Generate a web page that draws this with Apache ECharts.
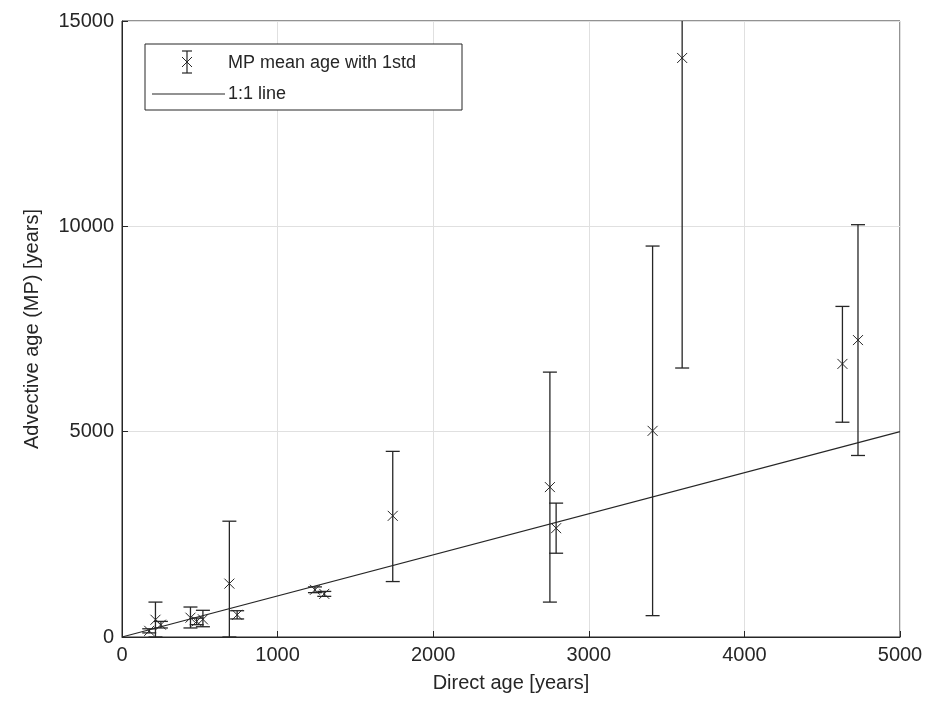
<!DOCTYPE html>
<html><head><meta charset="utf-8">
<script src="https://cdn.jsdelivr.net/npm/echarts@6/dist/echarts.min.js"></script>
<style>html,body{margin:0;background:#fff}#c{width:926px;height:709px}</style>
</head><body><div id="c"></div>
<script>
const directAge = [175, 215, 250, 440, 480, 520, 690, 740, 1240, 1300, 1740, 2750, 2790, 3410, 3600, 4630, 4730];
const meanAge   = [150, 420, 300, 470, 380, 430, 1300, 540, 1150, 1050, 2950, 3650, 2650, 5020, 14100, 6650, 7230];
const lowerAge  = [100, 0, 220, 220, 300, 250, 0, 440, 1080, 990, 1350, 850, 2040, 520, 6550, 5230, 4420];
const upperAge  = [200, 850, 380, 730, 460, 650, 2820, 640, 1220, 1110, 4520, 6450, 3260, 9520, 21650, 8050, 10040];
const oneToOne = [[0,0],[5000,5000]];

const data = directAge.map((x,i)=>[x, meanAge[i], lowerAge[i], upperAge[i]]);
const col = '#262626';
const chart = echarts.init(document.getElementById('c'));
const axisCommon = {
  axisLine:{lineStyle:{color:col}},axisTick:{inside:true,length:6,lineStyle:{color:col}},
  axisLabel:{fontFamily:'Liberation Sans',fontSize:20,color:col,margin:8,formatter:v=>String(v)},
  splitLine:{lineStyle:{color:'#e0e0e0'}},
  nameTextStyle:{fontFamily:'Liberation Sans',fontSize:20,color:col}
};
chart.setOption({
  animation:false,
  grid:{left:122,right:26,top:21,bottom:72,show:true,borderColor:col,borderWidth:1},
  xAxis:Object.assign({type:'value',min:0,max:5000,interval:1000,name:'Direct age [years]',nameLocation:'middle',nameGap:36},axisCommon),
  yAxis:Object.assign({type:'value',min:0,max:15000,interval:5000,name:'Advective age (MP) [years]',nameLocation:'middle',nameGap:80},axisCommon),
  series:[
    {type:'line',data:oneToOne,symbol:'none',lineStyle:{color:col,width:1.2},z:2},
    {type:'custom',data:data,clip:true,z:3,
     renderItem:function(params,api){
       const p=api.coord([api.value(0),api.value(1)]);
       const lo=api.coord([api.value(0),api.value(2)]);
       const hi=api.coord([api.value(0),api.value(3)]);
       const w=7,m=5;
       const s={stroke:col,lineWidth:1.3};
       return {type:'group',children:[
         {type:'line',shape:{x1:lo[0],y1:lo[1],x2:hi[0],y2:hi[1]},style:s},
         {type:'line',shape:{x1:lo[0]-w,y1:lo[1],x2:lo[0]+w,y2:lo[1]},style:s},
         {type:'line',shape:{x1:hi[0]-w,y1:hi[1],x2:hi[0]+w,y2:hi[1]},style:s},
         {type:'line',shape:{x1:p[0]-m,y1:p[1]-m,x2:p[0]+m,y2:p[1]+m},style:{stroke:col,lineWidth:1}},
         {type:'line',shape:{x1:p[0]-m,y1:p[1]+m,x2:p[0]+m,y2:p[1]-m},style:{stroke:col,lineWidth:1}}
       ]};
     }}
  ],
  graphic:[
    {type:'rect',z:10,shape:{x:145,y:44,width:317,height:66},style:{fill:'#fff',stroke:col,lineWidth:1}},
    {type:'line',z:11,shape:{x1:187,y1:51,x2:187,y2:73},style:{stroke:col,lineWidth:1.2}},
    {type:'line',z:11,shape:{x1:182,y1:51,x2:192,y2:51},style:{stroke:col,lineWidth:1.2}},
    {type:'line',z:11,shape:{x1:182,y1:73,x2:192,y2:73},style:{stroke:col,lineWidth:1.2}},
    {type:'line',z:11,shape:{x1:182,y1:57,x2:192,y2:67},style:{stroke:col,lineWidth:1}},
    {type:'line',z:11,shape:{x1:182,y1:67,x2:192,y2:57},style:{stroke:col,lineWidth:1}},
    {type:'line',z:11,shape:{x1:152,y1:94,x2:225,y2:94},style:{stroke:col,lineWidth:1.2}},
    {type:'text',z:11,style:{x:228,y:63,text:'MP mean age with 1std',fontFamily:'Liberation Sans',fontSize:18,fill:col,verticalAlign:'middle'}},
    {type:'text',z:11,style:{x:228,y:94,text:'1:1 line',fontFamily:'Liberation Sans',fontSize:18,fill:col,verticalAlign:'middle'}}
  ]
});
</script></body></html>
